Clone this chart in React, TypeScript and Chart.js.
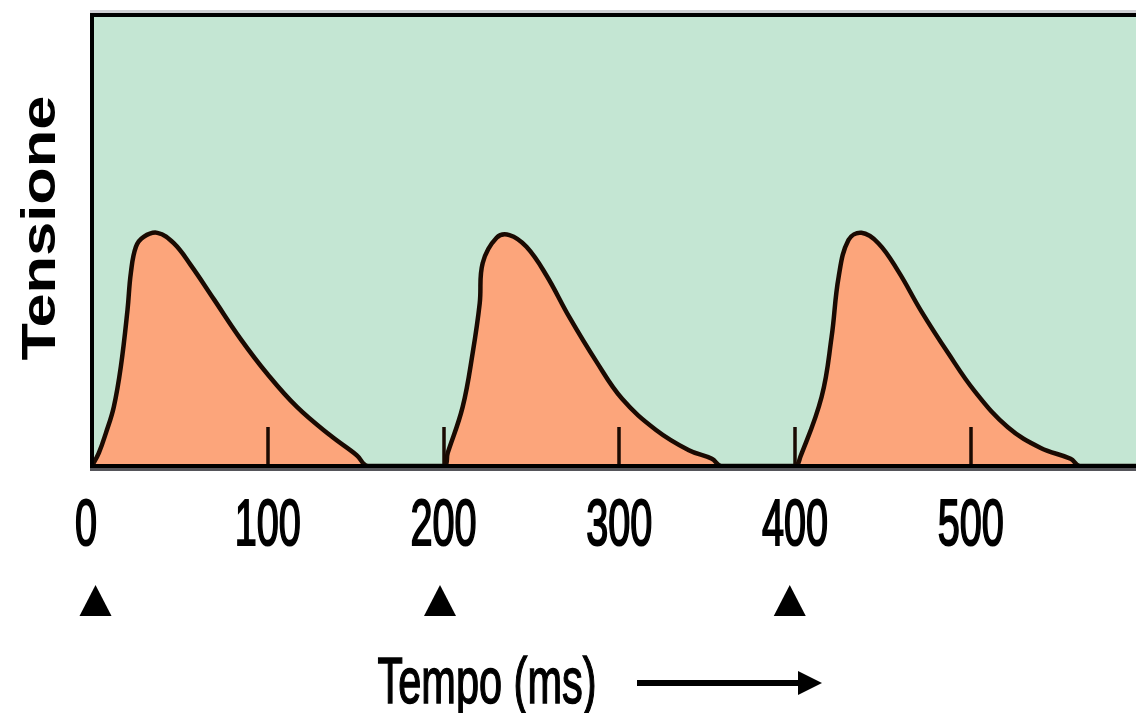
import React, { useEffect, useRef } from "react";
import { Chart, registerables } from "chart.js";

Chart.register(...registerables);

// Time (ms) and membrane tension (relative units, 0-100)
const timeMs = [
  0, 3.9, 7.9, 12.4, 16.4, 20.2, 22.1, 25, 29.4, 37.2, 46.5, 56.1, 69.3, 84.5, 99.8, 116.6, 135.5, 150.6, 157,
  200, 202.4, 210.9, 216.6, 220.6, 222.3, 230.2, 237.5, 247.2, 258.5, 271.6, 286.9, 301.6, 320.9, 339.6, 352.7, 358,
  400, 403, 415.1, 420.8, 424.8, 430.4, 437.8, 447.4, 458.7, 471.7, 487.0, 502.4, 521.1, 539.8, 556.8, 562, 594,
];
const tension = [
  0, 2.9, 7.3, 13.1, 22, 34.6, 42.8, 48.6, 50.8, 51.7, 49.4, 44.6, 37.0, 28.2, 20.4, 13.1, 6.8, 2.4, 0,
  0, 2.9, 13.1, 25.1, 36.1, 45.0, 50.6, 51.2, 48.6, 42.3, 33.0, 23.2, 14.9, 8.0, 3.5, 1.6, 0,
  0, 2.0, 15.3, 28.6, 41.9, 50.1, 51.7, 49.4, 43.2, 34.4, 25.1, 16.5, 8.6, 4.0, 1.6, 0, 0,
];
const tickValues = [0, 100, 200, 300, 400, 500];
const stimulusMs = [2, 198, 397];
const yTitle = "Tensione";
const xTitle = "Tempo (ms)";

const GREEN = "#c4e6d3";
const ORANGE = "#fca57b";
const INK = "#1a0a02";

const decorPlugin = {
  id: "decor",
  beforeDatasetsDraw(chart: any) {
    const { ctx, chartArea } = chart;
    ctx.save();
    ctx.fillStyle = GREEN;
    ctx.fillRect(chartArea.left, chartArea.top, chart.width - chartArea.left, chartArea.bottom - chartArea.top);
    ctx.restore();
  },
  afterDatasetsDraw(chart: any) {
    const { ctx, chartArea } = chart;
    const xs = chart.scales.x;
    ctx.save();
    // inner tick marks
    ctx.strokeStyle = INK;
    ctx.lineWidth = 3.5;
    tickValues.forEach((v) => {
      if (v === 0) return;
      const px = Math.round(xs.getPixelForValue(v));
      ctx.beginPath();
      ctx.moveTo(px, chartArea.bottom);
      ctx.lineTo(px, chartArea.bottom - 39);
      ctx.stroke();
    });
    // frame
    ctx.fillStyle = "#cfcfd3";
    ctx.fillRect(chartArea.left - 2, chartArea.top - 5, chart.width, 3);
    ctx.fillStyle = "#000";
    ctx.fillRect(chartArea.left - 2, chartArea.top - 2, chart.width, 4);
    ctx.fillRect(chartArea.left - 2, chartArea.top - 2, 4, chartArea.bottom - chartArea.top + 4);
    ctx.fillRect(chartArea.left - 2, chartArea.bottom - 2, chart.width, 4);
    ctx.fillStyle = "#55555a";
    ctx.fillRect(chartArea.left - 2, chartArea.bottom + 2, chart.width, 3);
    ctx.restore();
  },
  afterDraw(chart: any) {
    const { ctx } = chart;
    const xs = chart.scales.x;
    ctx.save();
    ctx.fillStyle = "#000";
    ctx.strokeStyle = "#000";
    // tick labels (condensed)
    ctx.font = '64px "Liberation Sans", Arial, sans-serif';
    ctx.textAlign = "center";
    ctx.textBaseline = "alphabetic";
    ctx.lineWidth = 2;
    tickValues.forEach((v) => {
      const px = xs.getPixelForValue(v);
      ctx.save();
      ctx.translate(v === 0 ? px - 6 : px, 545);
      ctx.scale(0.62, 1);
      ctx.strokeText(String(v), 0, 0);
      ctx.fillText(String(v), 0, 0);
      ctx.restore();
    });
    // stimulus triangles
    stimulusMs.forEach((v) => {
      const px = xs.getPixelForValue(v);
      ctx.beginPath();
      ctx.moveTo(px, 585);
      ctx.lineTo(px + 16, 616);
      ctx.lineTo(px - 16, 616);
      ctx.closePath();
      ctx.fill();
    });
    // x title
    ctx.font = '64px "Liberation Sans", Arial, sans-serif';
    const w = ctx.measureText(xTitle).width;
    ctx.save();
    ctx.translate(487, 703);
    ctx.scale(219 / w, 1);
    ctx.lineWidth = 1.5;
    ctx.strokeText(xTitle, 0, 0);
    ctx.fillText(xTitle, 0, 0);
    ctx.restore();
    // arrow
    ctx.lineWidth = 6;
    ctx.beginPath();
    ctx.moveTo(637, 683);
    ctx.lineTo(802, 683);
    ctx.stroke();
    ctx.beginPath();
    ctx.moveTo(798, 671);
    ctx.lineTo(822, 683);
    ctx.lineTo(798, 695);
    ctx.closePath();
    ctx.fill();
    // y title
    ctx.font = 'bold 48px "Liberation Sans", Arial, sans-serif';
    const wy = ctx.measureText(yTitle).width;
    ctx.save();
    ctx.translate(55, 228);
    ctx.rotate(-Math.PI / 2);
    ctx.scale(265 / wy, 1);
    ctx.textAlign = "center";
    ctx.fillText(yTitle, 0, 0);
    ctx.restore();
    ctx.restore();
  },
};

export default function App() {
  const ref = useRef<HTMLCanvasElement | null>(null);
  useEffect(() => {
    document.body.style.margin = "0";
    const canvas = ref.current;
    if (!canvas) return;
    const chart = new Chart(canvas, {
      type: "line",
      data: {
        datasets: [
          {
            data: timeMs.map((t, i) => ({ x: t, y: tension[i] })),
            borderColor: INK,
            borderWidth: 4.5,
            backgroundColor: ORANGE,
            fill: "origin",
            pointRadius: 0,
            tension: 0.4,
          },
        ],
      },
      options: {
        animation: false,
        responsive: false,
        layout: { padding: { left: 92, top: 15, right: 0, bottom: 247 } },
        plugins: { legend: { display: false }, tooltip: { enabled: false } },
        scales: {
          x: { type: "linear", min: 0, max: 594, display: false },
          y: { type: "linear", min: 0, max: 100, display: false },
        },
      },
      plugins: [decorPlugin],
    });
    return () => chart.destroy();
  }, []);
  return (
    <div style={{ width: 1136, height: 713, background: "#fff" }}>
      <canvas ref={ref} width={1136} height={713} style={{ display: "block" }} />
    </div>
  );
}
